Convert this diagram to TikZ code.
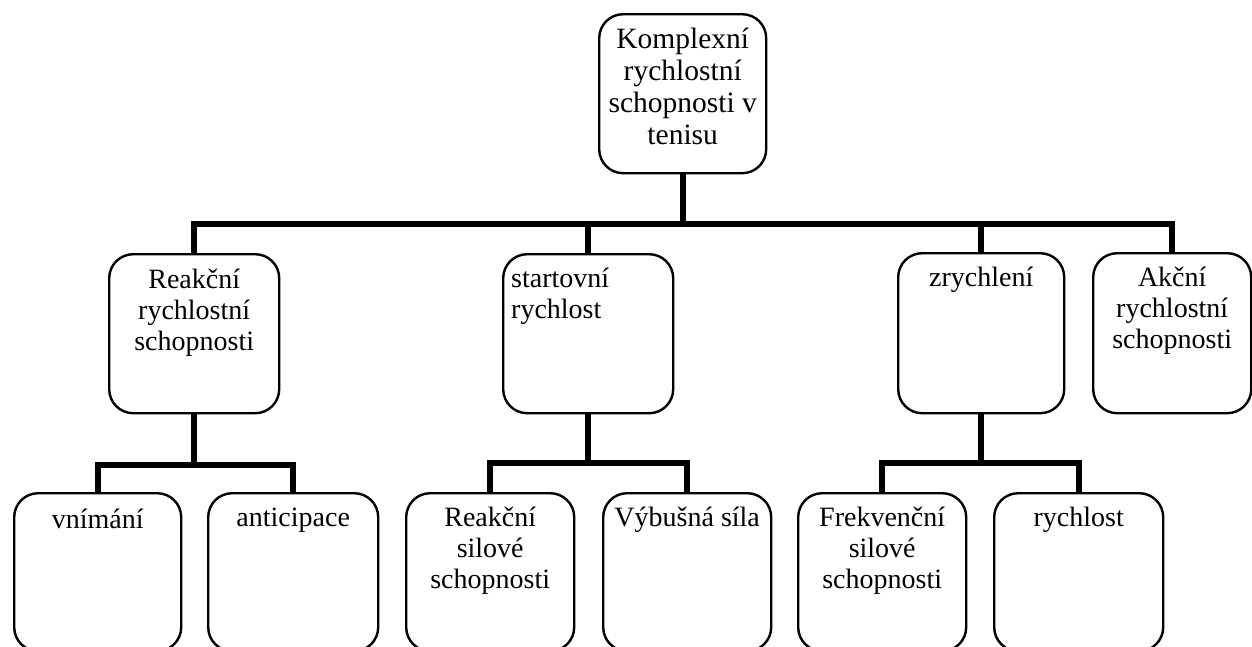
\documentclass[tikz,border=0pt]{standalone}
\usepackage{fontspec}
\setmainfont{Liberation Serif}
\tikzset{
  box/.style={draw, line width=2.4pt, rounded corners=24pt, inner sep=0pt, anchor=north west},
  conn/.style={line width=6pt, line join=miter, line cap=butt},
}
\newcommand\bt[4]{\begin{minipage}[t][#2pt][t]{#1pt}\vspace*{#3pt}\centering\fontsize{28pt}{31pt}\selectfont\rule{0pt}{22pt}#4\end{minipage}}
\newcommand\btt[4]{\begin{minipage}[t][#2pt][t]{#1pt}\vspace*{#3pt}\centering\fontsize{29.5pt}{32pt}\selectfont\rule{0pt}{22pt}#4\end{minipage}}
\newcommand\btl[4]{\begin{minipage}[t][#2pt][t]{#1pt}\vspace*{#3pt}\raggedright\leftskip=8pt\fontsize{28pt}{31pt}\selectfont\rule{0pt}{22pt}#4\end{minipage}}
\begin{document}
\begin{tikzpicture}[x=1pt,y=-1pt]
\useasboundingbox (0,0) rectangle (1252,646);
\fill[white] (0,0) rectangle (1252,646);
\clip (0,0) rectangle (1252,646);
% level 1
\node[box] (top) at (598,13) {\btt{167}{159}{12}{Komplexní\\rychlostní\\schopnosti v\\tenisu}};
% level 2
\node[box] (r1) at (108,253) {\bt{170}{159}{12}{Reakční\\rychlostní\\schopnosti}};
\node[box] (start) at (502,253) {\btl{170}{159}{11}{startovní\\rychlost}};
\node[box] (zrych) at (897,252) {\bt{166}{160}{11}{zrychlení}};
\node[box] (akc) at (1092,252) {\bt{158}{160}{11}{Akční\\rychlostní\\schopnosti}};
% level 3
\node[box] (vnim) at (13,492) {\bt{167}{158}{13}{vnímání}};
\node[box] (antic) at (207,492) {\bt{170}{158}{11}{anticipace}};
\node[box] (rsil) at (405,492) {\bt{168}{158}{11}{Reakční\\silové\\schopnosti}};
\node[box] (vybus) at (602,492) {\bt{168}{158}{11}{Výbušná síla}};
\node[box] (frek) at (797,492) {\bt{168}{158}{11}{Frekvenční\\silové\\schopnosti}};
\node[box] (rychl) at (993,492) {\bt{169}{158}{11}{rychlost}};
% connectors
\coordinate (b0) at (0,224);
\coordinate (b1) at (0,465);
\coordinate (b2) at (0,463);
\draw[conn] (top.south) -- (top.south |- b0);
\draw[conn] (r1.north) |- (akc.north |- b0) -- (akc.north);
\draw[conn] (start.north) -- (start.north |- b0);
\draw[conn] (zrych.north) -- (zrych.north |- b0);
\draw[conn] (r1.south) -- (r1.south |- b1);
\draw[conn] (vnim.north) |- (antic.north |- b1) -- (antic.north);
\draw[conn] (start.south) -- (start.south |- b2);
\draw[conn] (rsil.north) |- (vybus.north |- b2) -- (vybus.north);
\draw[conn] (zrych.south) -- (zrych.south |- b2);
\draw[conn] (frek.north) |- (rychl.north |- b2) -- (rychl.north);
\end{tikzpicture}
\end{document}
